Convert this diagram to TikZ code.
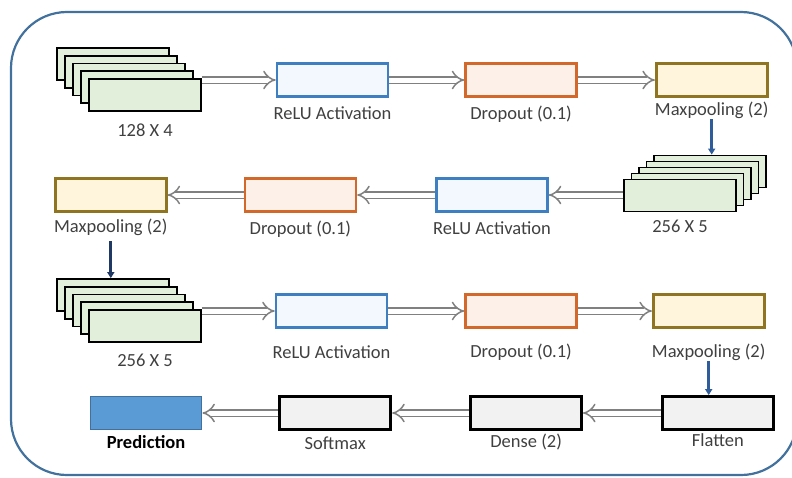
\documentclass[tikz,border=0pt]{standalone}
\usepackage{fontspec}
\setmainfont{Carlito}
\usetikzlibrary{positioning,arrows.meta}

\definecolor{framecol}{HTML}{41719C}
\definecolor{txtcol}{HTML}{404040}
\definecolor{sheetfill}{HTML}{E2EFDA}
\definecolor{reluline}{HTML}{3E7FC1}
\definecolor{relufill}{HTML}{F2F8FD}
\definecolor{dropline}{HTML}{D2692B}
\definecolor{dropfill}{HTML}{FDF0E8}
\definecolor{poolline}{HTML}{8F7421}
\definecolor{poolfill}{HTML}{FFF5DD}
\definecolor{predfill}{HTML}{5B9BD5}
\definecolor{densefill}{HTML}{F2F2F2}
\definecolor{downblue}{HTML}{2F5D9B}
\definecolor{downnavy}{HTML}{1F3864}

\begin{document}
\begin{tikzpicture}[x=1pt,y=-1pt,font=\fontsize{18.5}{20}\selectfont]
  \tikzstyle{layer}=[draw,line width=2.6pt,minimum width=111pt,minimum height=33pt,inner sep=0pt]
  \tikzstyle{sheet}=[draw=black,line width=1.8pt,fill=sheetfill,minimum width=112pt,minimum height=32pt,inner sep=0pt]
  \tikzstyle{relu}=[layer,draw=reluline,fill=relufill]
  \tikzstyle{drop}=[layer,draw=dropline,fill=dropfill]
  \tikzstyle{pool}=[layer,draw=poolline,fill=poolfill]
  \tikzstyle{dense}=[layer,draw=black,fill=densefill,line width=2.8pt]
  \tikzstyle{pred}=[layer,draw=framecol,fill=predfill,line width=1.8pt]
  \tikzstyle{lbl}=[text=txtcol,inner sep=0pt,text height=13pt,text depth=4pt]
  \tikzstyle{flow}=[draw=gray,line width=1.5pt,double=white,double distance=5pt,-{Implies}]
  \tikzstyle{down}=[line width=2.8pt,-{Triangle[length=6pt,width=7pt]}]

  \useasboundingbox (0,0) rectangle (792,477);
  \clip (0,0) rectangle (792,477);
  \draw[framecol,line width=2.2pt,rounded corners=56pt] (11,12) rectangle (797,475);

  % Row 1: input 128 X 4
  \foreach \i in {4,...,0}
    \node[sheet] (a\i) at ({145-8*\i},{95-7.75*\i}) {};
  \node[lbl,below=11pt of a0] (a0t) {128 X 4};

  \node[relu] (relu1) at (332.5,80) {};
  \node[drop] (drop1) [right=75pt of relu1] {};
  \node[pool] (pool1) [right=77pt of drop1] {};
  \node[lbl,below=8pt of relu1] (relu1t) {ReLU Activation};
  \node[lbl,below=8pt of drop1] (drop1t) {Dropout (0.1)};
  \node[lbl,below=4pt of pool1] (pool1t) {Maxpooling (2)};

  \draw[flow] (a0.east |- relu1.west) -- (relu1.west);
  \draw[flow] (relu1) -- (drop1);
  \draw[flow] (drop1) -- (pool1);

  % Row 2: 256 X 5, right to left
  \foreach \i in {4,...,0}
    \node[sheet] (b\i) at ({680+7.5*\i},{195.5-6*\i}) {};
  \node[lbl,below=7pt of b0] (b0t) {256 X 5};

  \node[relu] (relu2) at (492,195) {};
  \node[drop] (drop2) [left=78pt of relu2] {};
  \node[pool] (pool2) [left=76pt of drop2] {};
  \node[lbl,below=8pt of relu2] (relu2t) {ReLU Activation};
  \node[lbl,below=8pt of drop2] (drop2t) {Dropout (0.1)};
  \node[lbl,below=6pt of pool2] (pool2t) {Maxpooling (2)};

  \draw[down,downblue] (pool1.south |- pool1t.south) -- (pool1.south |- b4.north);
  \draw[flow] (b0.west |- relu2.east) -- (relu2.east);
  \draw[flow] (relu2) -- (drop2);
  \draw[flow] (drop2) -- (pool2);

  % Row 3: 256 X 5
  \foreach \i in {4,...,0}
    \node[sheet] (c\i) at ({145-8*\i},{326-7.75*\i}) {};
  \node[lbl,below=10pt of c0] (c0t) {256 X 5};

  \node[relu] (relu3) at (331.5,311) {};
  \node[drop] (drop3) [right=76pt of relu3] {};
  \node[pool] (pool3) [right=74pt of drop3] {};
  \node[lbl,below=16pt of relu3] (relu3t) {ReLU Activation};
  \node[lbl,below=15pt of drop3] (drop3t) {Dropout (0.1)};
  \node[lbl,below=15pt of pool3] (pool3t) {Maxpooling (2)};

  \draw[down,downnavy,shorten <=5pt] (pool2.south |- pool2t.south) -- (pool2.south |- c4.north);
  \draw[flow] (c0.east |- relu3.west) -- (relu3.west);
  \draw[flow] (relu3) -- (drop3);
  \draw[flow] (drop3) -- (pool3);

  % Row 4: classifier, right to left
  \node[pred] (pred) at (146,413) {};
  \node[dense] (soft) [right=76pt of pred] {};
  \node[dense] (dense) [right=77pt of soft] {};
  \node[dense] (flat) [right=78pt of dense] {};
  \node[lbl,below=5pt of pred,text=black,font=\fontsize{18.5}{20}\selectfont\bfseries] (predt) {Prediction};
  \node[lbl,below=5pt of soft] (softt) {Softmax};
  \node[lbl,below=3pt of dense] (denset) {Dense (2)};
  \node[lbl,below=2pt of flat] (flatt) {Flatten};

  \draw[down,downblue] (pool3.south |- pool3t.south) -- (pool3.south |- flat.north);
  \draw[flow] (flat) -- (dense);
  \draw[flow] (dense) -- (soft);
  \draw[flow] (soft) -- (pred);
\end{tikzpicture}
\end{document}
